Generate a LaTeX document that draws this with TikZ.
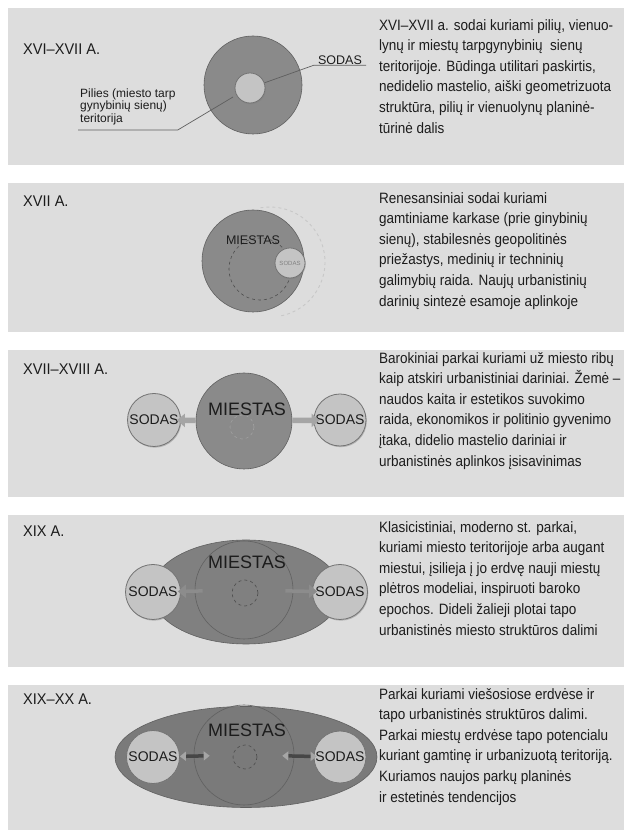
\documentclass[tikz,border=0pt]{standalone}
\usepackage{fontspec}
\setmainfont{Liberation Sans}
\newfontfamily\bodyfont{Liberation Sans}[FakeStretch=0.9]
\newfontfamily\headfont{Liberation Sans}[FakeStretch=0.94]
\usetikzlibrary{arrows.meta,shadows,shapes.geometric}

\definecolor{bandgrey}{RGB}{221,221,221}
\definecolor{towngrey}{RGB}{138,138,138}
\definecolor{townedge}{RGB}{96,96,96}
\definecolor{lensgrey}{RGB}{128,128,128}
\definecolor{gardengrey}{RGB}{196,196,196}
\definecolor{gardenedge}{RGB}{115,115,115}
\definecolor{inkgrey}{RGB}{28,28,28}
\definecolor{leadergrey}{RGB}{95,95,95}
\definecolor{arrowgrey}{RGB}{165,165,165}
\definecolor{bargrey}{RGB}{70,70,70}
\definecolor{halogrey}{RGB}{200,200,200}

\tikzset{
	band/.style={fill=bandgrey, draw=none},
	period/.style={anchor=base west, inner sep=0pt, font=\headfont\fontsize{15.5}{17}\selectfont, text=inkgrey},
	note/.style={anchor=north west, inner sep=0pt, align=left, font=\bodyfont\fontsize{15}{20.6}\selectfont, text=inkgrey},
	town/.style={circle, fill=towngrey, draw=townedge, line width=.6pt, inner sep=0pt},
	ring/.style={circle, draw=townedge, line width=.6pt, inner sep=0pt},
	lens/.style={ellipse, fill=lensgrey, draw=townedge, line width=.6pt, inner sep=0pt},
	garden/.style={circle, fill=gardengrey, draw=gardenedge, line width=.8pt, inner sep=0pt, text=inkgrey,
		font=\fontsize{14}{14}\selectfont, drop shadow={shadow xshift=.8pt, shadow yshift=-1.2pt, opacity=.45}},
	core/.style={circle, draw=townedge!80!black, dashed, line width=.6pt, inner sep=0pt},
	cityname/.style={inner sep=0pt, text=inkgrey, font=\fontsize{18}{18}\selectfont},
	tag/.style={anchor=base, inner xsep=4pt, inner ysep=0pt, text depth=0pt, text=inkgrey, font=\fontsize{12.5}{14}\selectfont},
	caption/.style={anchor=south west, align=left, inner xsep=2pt, inner ysep=5pt, text=inkgrey, font=\fontsize{12}{12.5}\selectfont},
	leader/.style={draw=leadergrey, line width=.7pt},
	spread/.style={-{Triangle[length=8pt,width=13pt]}, line width=5.5pt, draw=arrowgrey},
	trade/.style={{Triangle[length=6pt,width=9pt,color=arrowgrey]}-{Triangle[length=6pt,width=9pt,color=arrowgrey]}, line width=3.5pt, draw=bargrey}
}

\begin{document}
\begin{tikzpicture}[x=1pt, y=1pt]
	\useasboundingbox (0,0) rectangle (624,830);
	\fill[white] (0,0) rectangle (624,830);

	\fill[band] (8,665) rectangle (624,822);
	\fill[band] (8,498) rectangle (624,647);
	\fill[band] (8,333) rectangle (624,480);
	\fill[band] (8,163) rectangle (624,315);
	\fill[band] (8,0) rectangle (624,145);

	\node[period] (period1) at (23,775) {XVI–XVII A.};
	\node[period] (period2) at (23,623) {XVII A.};
	\node[period] (period3) at (23,455) {XVII–XVIII A.};
	\node[period] (period4) at (23,293) {XIX A.};
	\node[period] (period5) at (23,125) {XIX–XX A.};

	\node[note] (note1) at (379,811) {XVI–XVII a. sodai kuriami pilių, vienuo-\\lynų ir miestų tarpgynybinių\ \ sienų\\teritorijoje. Būdinga utilitari paskirtis,\\nedidelio mastelio, aiški geometrizuota\\struktūra, pilių ir vienuolynų planinė-\\tūrinė dalis};
	\node[note] (note2) at (379,638) {Renesansiniai sodai kuriami\\gamtiniame karkase (prie ginybinių\\sienų), stabilesnės geopolitinės\\priežastys, medinių ir techninių\\galimybių raida. Naujų urbanistinių\\darinių sintezė esamoje aplinkoje};
	\node[note] (note3) at (379,478) {Barokiniai parkai kuriami už miesto ribų\\kaip atskiri urbanistiniai dariniai. Žemė –\\naudos kaita ir estetikos suvokimo\\raida, ekonomikos ir politinio gyvenimo\\įtaka, didelio mastelio dariniai ir\\urbanistinės aplinkos įsisavinimas};
	\node[note] (note4) at (379,309) {Klasicistiniai, moderno st. parkai,\\kuriami miesto teritorijoje arba augant\\miestui, įsilieja į jo erdvę nauji miestų\\plėtros modeliai, inspiruoti baroko\\epochos. Dideli žalieji plotai tapo\\urbanistinės miesto struktūros dalimi};
	\node[note] (note5) at (379,142) {Parkai kuriami viešosiose erdvėse ir\\tapo urbanistinės struktūros dalimi.\\Parkai miestų erdvėse tapo potencialu\\kuriant gamtinę ir urbanizuotą teritoriją.\\Kuriamos naujos parkų planinės\\ir estetinės tendencijos};

	\node[town, minimum size=98pt] (town1) at (253,745) {};
	\node[garden, minimum size=30pt, drop shadow={opacity=0}] (garden1) at (250,742) {};
	\node[tag] (sodastag) at (340,765) {SODAS};
	\node[caption] (castletag) at (78,700) {Pilies (miesto tarp\\gynybinių sienų)\\teritorija};
	\coordinate (castlept) at (233,733);
	\draw[leader] (garden1) -- (sodastag.south west) -- (sodastag.south east);
	\draw[leader] (castletag.south west) -- (castletag.south east) -- (castlept);

	\node[town, minimum size=102pt] (town2) at (253,569) {};
	\node[core, minimum size=62pt] (core2) at (260,561) {};
	\coordinate (halo2) at (270,568);
	\draw[halogrey, dashed, line width=.9pt] ([shift={(100:55)}]halo2) arc[start angle=100, end angle=-80, radius=55];
	\node[cityname, font=\fontsize{12.5}{13}\selectfont] (name2) at (253,590) {MIESTAS};
	\node[garden, minimum size=30pt, font=\fontsize{6}{6}\selectfont, text=gray] (garden2) at (290,567) {SODAS};

	\node[town, minimum size=96pt] (town3) at (244,409) {};
	\node[core, minimum size=24pt, draw=townedge!60] (core3) at (242,403) {};
	\node[cityname] (name3) at (247,421) {MIESTAS};
	\node[garden, minimum size=53pt] (gardenL3) at (154,410) {SODAS};
	\node[garden, minimum size=52pt] (gardenR3) at (340,410) {SODAS};
	\draw[spread, shorten >=-4pt] (town3) -- (gardenL3);
	\draw[spread, shorten >=-6pt] (town3) -- (gardenR3);

	\node[lens, minimum width=190pt, minimum height=104pt] (lens4) at (246,238) {};
	\node[ring, minimum size=98pt] (town4) at (244,240) {};
	\node[core, minimum size=26pt] (core4) at (245,237) {};
	\node[cityname] (name4) at (247,268) {MIESTAS};
	\node[garden, minimum size=55pt] (gardenL4) at (153,238) {SODAS};
	\node[garden, minimum size=55pt] (gardenR4) at (340,238) {SODAS};
	\draw[spread, line width=3.5pt, draw=arrowgrey!85!black, shorten <=-8pt, shorten >=-3pt] (town4) -- (gardenL4);
	\draw[spread, line width=3.5pt, draw=arrowgrey!85!black, shorten <=-8pt, shorten >=-5pt] (town4) -- (gardenR4);

	\node[lens, fill=lensgrey!95!black, minimum width=262pt, minimum height=101pt] (lens5) at (246,73) {};
	\node[ring, minimum size=100pt] (town5) at (244,75) {};
	\node[core, minimum size=24pt] (core5) at (245,73) {};
	\node[cityname] (name5) at (247,100) {MIESTAS};
	\node[garden, minimum size=53pt] (gardenL5) at (153,73) {SODAS};
	\node[garden, minimum size=52pt] (gardenR5) at (340,73) {SODAS};
	\draw[trade, shorten <=-16pt] (town5) -- (gardenL5);
	\draw[trade, shorten <=-12pt, shorten >=-3pt] (town5) -- (gardenR5);
\end{tikzpicture}
\end{document}
